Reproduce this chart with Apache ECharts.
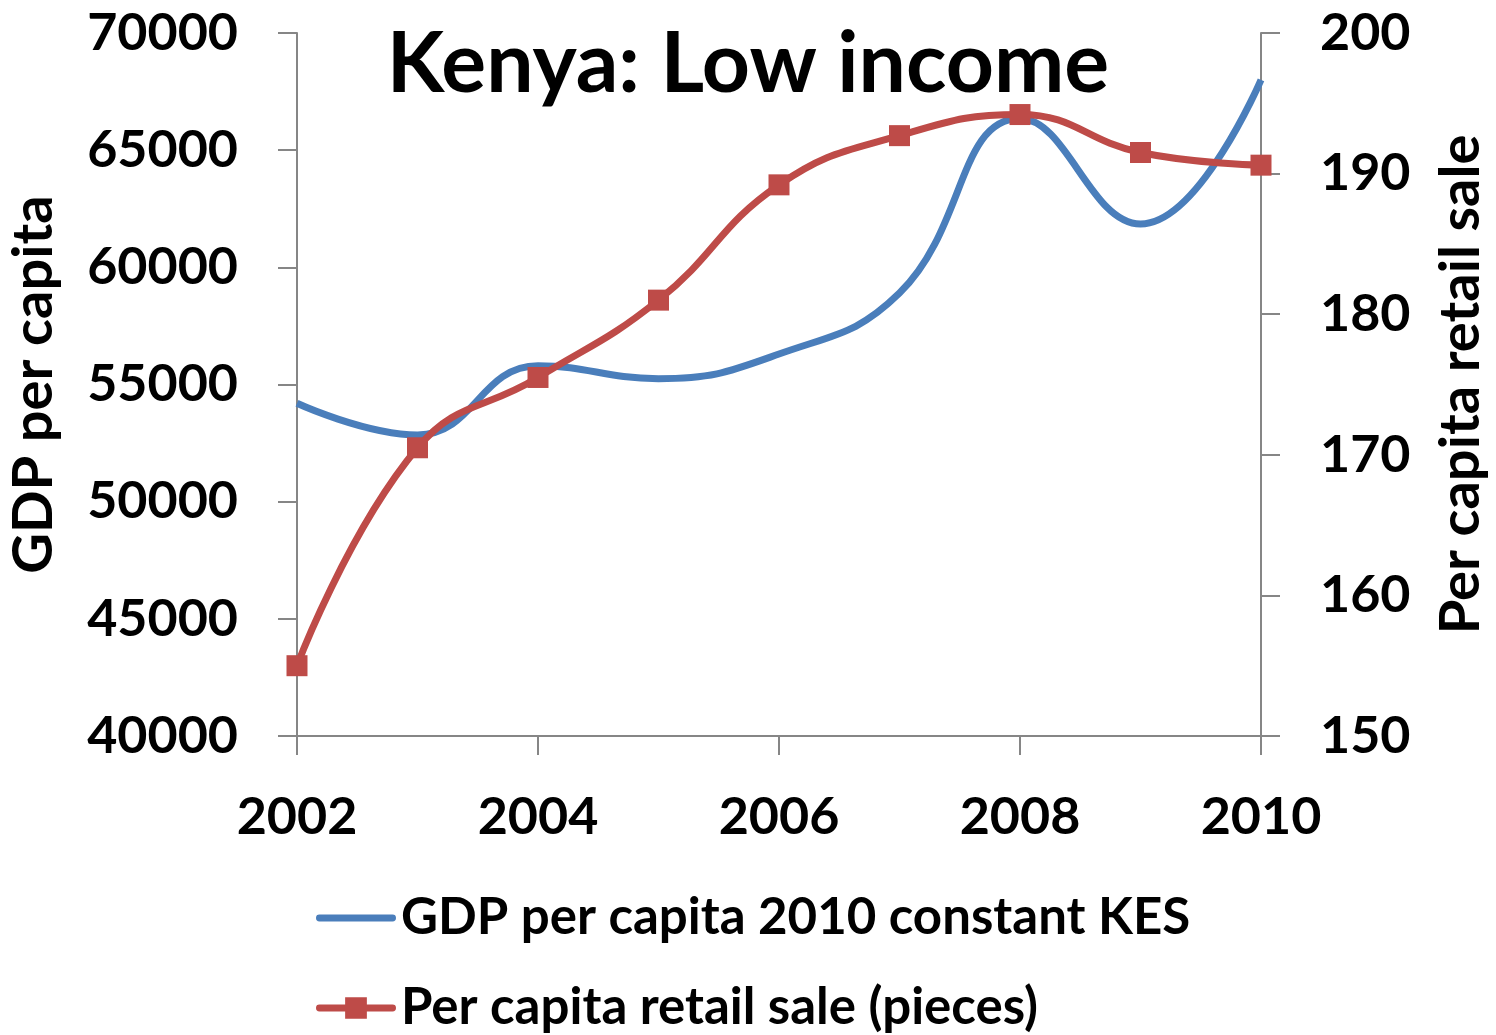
<!DOCTYPE html>
<html>
<head>
<meta charset="utf-8">
<script src="https://cdn.jsdelivr.net/npm/echarts@6/dist/echarts.min.js"></script>
<style>
  html, body { margin: 0; padding: 0; background: #fff; }
  #chart { width: 1496px; height: 1035px; }
</style>
</head>
<body>
<div id="chart"></div>
<script>
// Kenya: GDP per capita vs per capita retail sales, 2002-2010
const years = [2002, 2003, 2004, 2005, 2006, 2007, 2008, 2009, 2010];
const gdpPerCapita = [54200, 52850, 55800, 55250, 56300, 58900, 66350, 61850, 68000];
const retailPerCapita = [155.0, 170.5, 175.5, 181.0, 189.2, 192.7, 194.2, 191.5, 190.6];
const gdpTicks = [40000, 45000, 50000, 55000, 60000, 65000, 70000];
const retailTicks = [150, 160, 170, 180, 190, 200];
const seriesNames = ['GDP per capita 2010 constant KES', 'Per capita retail sale (pieces)'];

const FONT = 'Lato';
const AXIS_GRAY = '#868686';
const BLUE = '#4A7EBB';
const RED = '#BE4B48';

// legend glyphs: a plain thick line, and a thick line with a square marker
const ICON_LINE = 'path://M3,0 H77 A3.5,3.5 0 0 1 77,7 H3 A3.5,3.5 0 0 1 3,0 Z';
const ICON_LINE_RECT = 'path://M3,7.5 H29 V0 H51 V7.5 H77 A3.5,3.5 0 0 1 77,14.5 H51 V22 H29 V14.5 H3 A3.5,3.5 0 0 1 3,7.5 Z';

const chart = echarts.init(document.getElementById('chart'), null, { renderer: 'canvas' });

const plainNumber = v => String(v);

const axisCommon = {
  axisLine: { show: true, lineStyle: { color: AXIS_GRAY, width: 2 } },
  axisTick: { show: true, length: 19, lineStyle: { color: AXIS_GRAY, width: 2 } },
  splitLine: { show: false },
  axisLabel: { color: '#000', fontFamily: FONT, fontWeight: 'bold', fontSize: 52, formatter: plainNumber }
};

const nameStyle = { fontFamily: FONT, fontWeight: 'bold', fontSize: 56, color: '#000' };
const legendText = { fontFamily: FONT, fontWeight: 'bold', fontSize: 51, color: '#000', lineHeight: 60 };

chart.setOption({
  animation: false,
  backgroundColor: '#fff',
  title: {
    text: 'Kenya: Low income',
    left: 'center',
    top: 18,
    textStyle: { fontFamily: FONT, fontWeight: 'bold', fontSize: 84, color: '#000' }
  },
  grid: { left: 297, right: 235, top: 33, bottom: 299, containLabel: false, outerBoundsMode: 'none' },
  legend: [
    {
      left: 316, top: 888, padding: 0,
      itemWidth: 80, itemHeight: 7,
      textStyle: legendText,
      data: [{ name: seriesNames[0], icon: ICON_LINE, itemStyle: { color: BLUE } }]
    },
    {
      left: 316, top: 978, padding: 0,
      itemWidth: 80, itemHeight: 22,
      textStyle: legendText,
      data: [{ name: seriesNames[1], icon: ICON_LINE_RECT, itemStyle: { color: RED } }]
    }
  ],
  xAxis: Object.assign({}, axisCommon, {
    type: 'value',
    min: years[0],
    max: years[years.length - 1],
    interval: 2,
    axisLabel: Object.assign({}, axisCommon.axisLabel, { margin: 55 })
  }),
  yAxis: [
    Object.assign({}, axisCommon, {
      type: 'value',
      min: gdpTicks[0],
      max: gdpTicks[gdpTicks.length - 1],
      interval: gdpTicks[1] - gdpTicks[0],
      name: 'GDP per capita',
      nameLocation: 'middle',
      nameGap: 235,
      nameTextStyle: nameStyle,
      axisLabel: Object.assign({}, axisCommon.axisLabel, { margin: 59 })
    }),
    Object.assign({}, axisCommon, {
      type: 'value',
      position: 'right',
      min: retailTicks[0],
      max: retailTicks[retailTicks.length - 1],
      interval: retailTicks[1] - retailTicks[0],
      name: 'Per capita retail sale',
      nameLocation: 'middle',
      nameGap: 172,
      nameTextStyle: nameStyle,
      axisLabel: Object.assign({}, axisCommon.axisLabel, { margin: 59 })
    })
  ],
  series: [
    {
      name: seriesNames[0],
      type: 'line',
      yAxisIndex: 0,
      smooth: 0.45,
      showSymbol: false,
      symbol: 'none',
      lineStyle: { color: BLUE, width: 7 },
      itemStyle: { color: BLUE },
      data: years.map((y, i) => [y, gdpPerCapita[i]])
    },
    {
      name: seriesNames[1],
      type: 'line',
      yAxisIndex: 1,
      smooth: 0.45,
      symbol: 'rect',
      symbolSize: 21,
      lineStyle: { color: RED, width: 7 },
      itemStyle: { color: RED },
      data: years.map((y, i) => [y, retailPerCapita[i]])
    }
  ]
});
</script>
</body>
</html>
